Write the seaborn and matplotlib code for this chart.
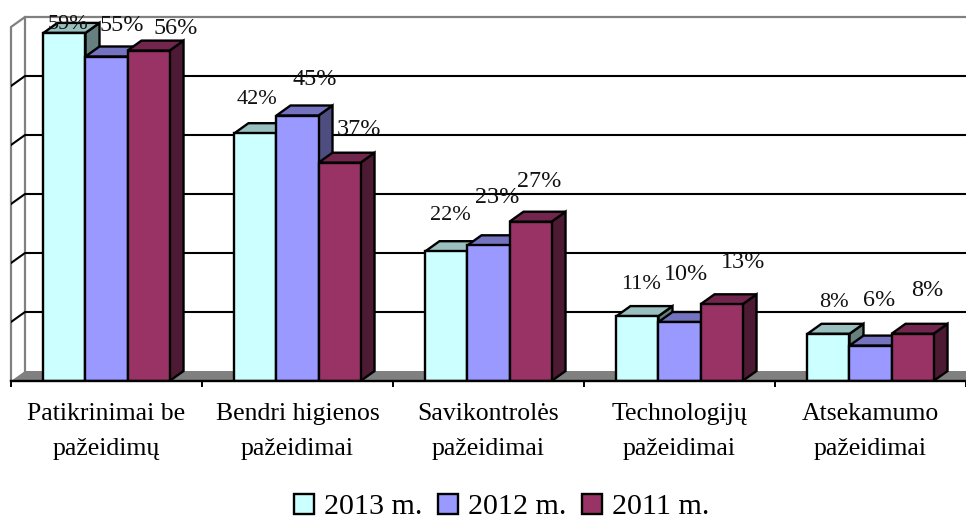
import pandas as pd
import seaborn as sns
import matplotlib.pyplot as plt

# Values
categories = ["Patikrinimai be\npažeidimų", "Bendri higienos\npažeidimai", "Savikontrolės\npažeidimai",
              "Technologijų\npažeidimai", "Atsekamumo\npažeidimai"]
years = ["2013 m.", "2012 m.", "2011 m."]
values_2013 = [59, 42, 22, 11, 8]
values_2012 = [55, 45, 23, 10, 6]
values_2011 = [56, 37, 27, 13, 8]

# Styling
colors = ["#CCFFFF", "#9999FF", "#993366"]
px_per_unit = 5.9
depth_x = 14 / 191  # category units
depth_y = 10 / px_per_unit
# label offsets from the top centre of each bar, in pixels, and font sizes
label_offsets = [[(4, 8), (2, 34), (4, 36), (4, 32), (5, 31)],
                 [(15, 31), (17, 36), (9, 48), (6, 47), (9, 45)],
                 [(27, 22), (19, 33), (9, 40), (22, 42), (15, 43)]]
label_sizes = [[16, 16, 16, 16, 16],
               [17.4, 17.4, 17.4, 17.4, 17.4],
               [17.4, 17.4, 17.4, 17.4, 17.4]]

df = pd.DataFrame({
    "category": categories * 3,
    "year": [y for y in years for _ in categories],
    "value": values_2013 + values_2012 + values_2011,
})

plt.rcParams["font.family"] = ["Liberation Serif", "DejaVu Serif"]
fig = plt.figure(figsize=(9.66, 5.19), dpi=100)
ax = fig.add_axes([11 / 966, 138 / 519, 955 / 966, 381 / 519])

sns.barplot(data=df, x="category", y="value", hue="year", palette=colors, saturation=1,
            width=0.66, gap=0, edgecolor="black", linewidth=1.7, ax=ax, zorder=30)
ax.set_xlim(-0.5, 4.5)
ax.set_ylim(0, 381 / px_per_unit)


def shade(hex_color, factor):
    rgb = [int(hex_color[i:i + 2], 16) * factor / 255 for i in (1, 3, 5)]
    return tuple(rgb)


# Walls and floor of the fake 3D box
wall_gray = "#808080"
ax.fill([-0.5, -0.5 + depth_x, 4.5 + depth_x, 4.5], [0, depth_y, depth_y, 0], color=wall_gray, lw=0, zorder=1)
ax.plot([-0.5, -0.5, -0.5 + depth_x, 4.6], [0, 60, 60 + depth_y, 60 + depth_y], color=wall_gray, lw=1.6, zorder=2, clip_on=False)
ax.plot([-0.5 + depth_x, -0.5 + depth_x], [depth_y, 60 + depth_y], color=wall_gray, lw=1.6, zorder=2)
for tick in [10, 20, 30, 40, 50]:
    ax.plot([-0.5, -0.5 + depth_x, 4.6], [tick, tick + depth_y, tick + depth_y], color="black", lw=1.5, zorder=3)

# Side and top faces, drawn left to right from the bars seaborn made
bars = []
for container, color in zip(ax.containers, colors):
    for bar in container:
        bars.append((bar.get_x(), bar, color))
bars.sort(key=lambda b: b[0])
order = 4
for left, bar, color in bars:
    right = left + bar.get_width()
    top = bar.get_height()
    order += 1
    ax.fill([right, right + depth_x, right + depth_x, right], [0, depth_y, top + depth_y, top],
            facecolor=shade(color, 0.5), edgecolor="black", lw=1.7, zorder=order)
    ax.fill([left, left + depth_x, right + depth_x, right], [top, top + depth_y, top + depth_y, top],
            facecolor=shade(color, 0.75), edgecolor="black", lw=1.7, zorder=order)

# Value labels
for container, offsets, sizes in zip(ax.containers, label_offsets, label_sizes):
    for bar, offset, size in zip(container, offsets, sizes):
        ax.annotate(f"{bar.get_height():.0f}%", (bar.get_x() + bar.get_width() / 2, bar.get_height()),
                    xytext=offset, textcoords="offset pixels", ha="center", va="center",
                    fontsize=size, color="#111111", zorder=50, annotation_clip=False)

# Axes
sns.despine(ax=ax, left=True)
ax.spines["bottom"].set_linewidth(1.7)
ax.spines["bottom"].set_zorder(40)
ax.set_yticks([])
ax.set_xlabel("")
ax.set_ylabel("")
ax.set_xticks([-0.5, 0.5, 1.5, 2.5, 3.5, 4.5], minor=True)
ax.tick_params(axis="x", which="minor", length=4.5, width=1.4, color="black")
ax.tick_params(axis="x", which="major", length=0, pad=15.8, labelsize=18.5)
for label in ax.get_xticklabels():
    label.set_linespacing(1.74)

# Legend
handles, labels = ax.get_legend_handles_labels()
ax.get_legend().remove()
legend = fig.legend(handles, labels, ncol=3, loc="center", bbox_to_anchor=(502 / 966, 12 / 519),
                    frameon=False, fontsize=21.6, handlelength=0.66, handleheight=0.66,
                    handletextpad=0.33, columnspacing=0.53, borderpad=0, borderaxespad=0)

fig.savefig("out.png", dpi=100)
